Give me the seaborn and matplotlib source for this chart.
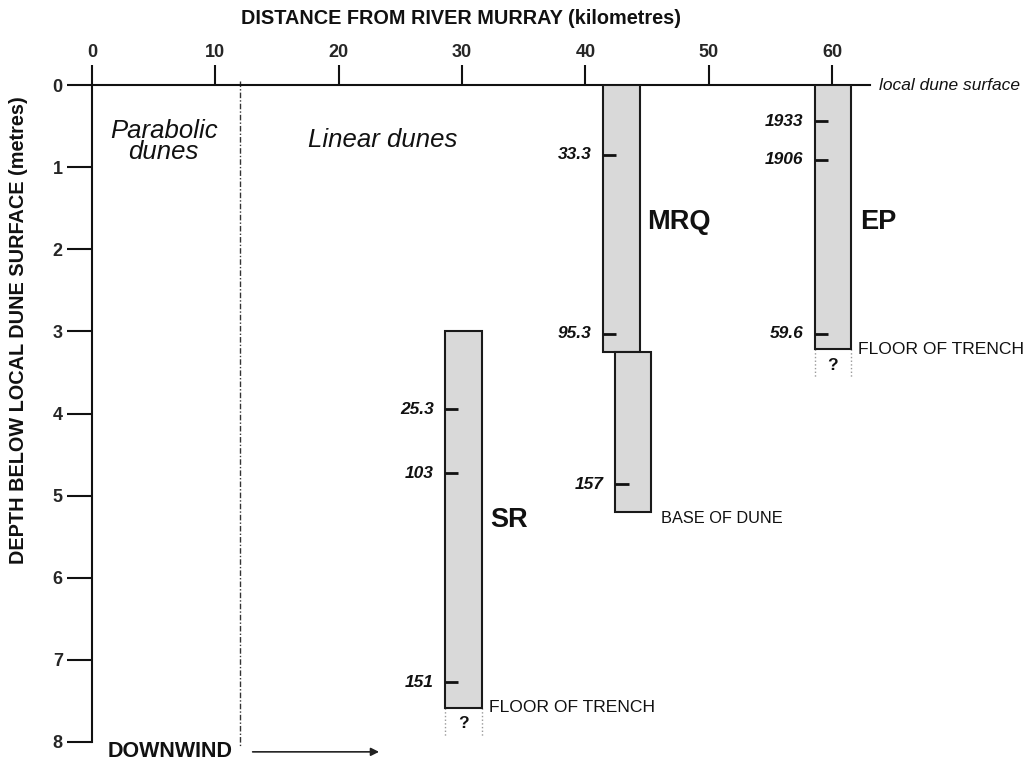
import numpy as np
import matplotlib
matplotlib.use('Agg')
import matplotlib.pyplot as plt
import seaborn as sns

# core segments (km from river, depth in metres)
seg_core = ['MRQ', 'MRQ', 'EP', 'SR']
seg_left = [41.4, 42.4, 58.6, 28.6]
seg_right = [44.4, 45.3, 61.5, 31.6]
seg_top = [0.0, 3.25, 0.0, 3.0]
seg_bottom = [3.25, 5.2, 3.22, 7.58]

# samples: segment index, depth, age label
sample_seg = [0, 0, 1, 2, 2, 2, 3, 3, 3]
sample_depth = [0.85, 3.03, 4.86, 0.44, 0.91, 3.03, 3.95, 4.73, 7.27]
sample_label = ['33.3', '95.3', '157', '1933', '1906', '59.6', '25.3', '103', '151']

# core name labels
core_names = ['MRQ', 'EP', 'SR']
core_name_x = [45.0, 62.3, 32.3]
core_name_y = [1.67, 1.67, 5.3]

# segments whose bottom is the trench floor (unknown below)
trench_segs = [2, 3]

x_ticks = [0, 10, 20, 30, 40, 50, 60]
y_ticks = [0, 1, 2, 3, 4, 5, 6, 7, 8]
boundary_km = 12.0

sns.set_theme(style='white')
plt.rcParams['font.family'] = ['Liberation Sans', 'DejaVu Sans']

fig = plt.figure(figsize=(10.28, 7.66), dpi=100)
ax = fig.add_axes([92/1028, 24/766, 814/1028, 657/766])
ax.set_xlim(0, 66)
ax.set_ylim(8, 0)

# axes styling
for s in ['bottom', 'right']:
    ax.spines[s].set_visible(False)
ax.spines['top'].set_bounds(0, 63.1)
ax.spines['left'].set_bounds(0, 8)
for s in ['top', 'left']:
    ax.spines[s].set_color('#111')
    ax.spines[s].set_linewidth(1.5)
ax.xaxis.tick_top()
ax.set_xticks(x_ticks)
ax.set_yticks(y_ticks)
ax.tick_params(axis='x', top=True, bottom=False, direction='out', length=14.4, width=1.5,
               color='#111', pad=3, labelsize=13)
ax.tick_params(axis='y', left=True, right=False, direction='out', length=18, width=1.5,
               color='#111', pad=3, labelsize=13)
for lab in ax.get_xticklabels() + ax.get_yticklabels():
    lab.set_fontweight('bold')
ax.grid(False)

# cores
left = np.array(seg_left)
right = np.array(seg_right)
top = np.array(seg_top)
bottom = np.array(seg_bottom)
ax.bar(left, bottom - top, bottom=top, width=right - left, align='edge',
       color='#d9d9d9', edgecolor='#1a1a1a', linewidth=1.5, zorder=3)

# sample positions
for i, d, lab in zip(sample_seg, sample_depth, sample_label):
    ax.hlines(d, left[i], left[i] + 1.1, colors='#111', lw=2, zorder=4)
    ax.text(left[i] - 0.9, d, lab, ha='right', va='center', fontsize=12.5,
            style='italic', fontweight='bold', color='#111')

for name, x, y in zip(core_names, core_name_x, core_name_y):
    ax.text(x, y, name, ha='left', va='center', fontsize=19.5, fontweight='bold', color='#111')

# unknown below trench floor
for i in trench_segs:
    ax.vlines([left[i], right[i]], bottom[i], bottom[i] + 0.35, colors='#999',
              linestyles=':', lw=1, clip_on=False)
    ax.text((left[i] + right[i]) / 2, bottom[i] + 0.19, '?', ha='center', va='center',
            fontsize=12.5, fontweight='bold', color='#111')
    ax.text(right[i] + 0.6, bottom[i], 'FLOOR OF TRENCH', ha='left', va='center',
            fontsize=12.6, color='#111')

ax.text(right[1] + 0.8, bottom[1] + 0.08, 'BASE OF DUNE', ha='left', va='center',
        fontsize=11.8, color='#111')

# dune type boundary
ax.vlines(boundary_km, -0.05, 8.05, colors='#333', linestyles=(0, (4, 1.5, 1, 1.5)),
          lw=1, clip_on=False)
ax.text(5.8, 0.69, 'Parabolic\ndunes', ha='center', va='center', fontsize=18.5,
        style='italic', linespacing=0.85, color='#111')
ax.text(23.6, 0.67, 'Linear dunes', ha='center', va='center', fontsize=18.5,
        style='italic', color='#111')

ax.text(63.8, 0, 'local dune surface', ha='left', va='center', fontsize=12.5,
        style='italic', color='#111')

ax.text(1.3, 8.12, 'DOWNWIND', ha='left', va='center', fontsize=15.5,
        fontweight='bold', color='#111')
ax.annotate('', xy=(23.5, 8.12), xytext=(12.8, 8.12), annotation_clip=False,
            arrowprops=dict(arrowstyle='-|>', color='#222', lw=1.2, mutation_scale=12))

fig.text(461/1028, 1 - 18/766, 'DISTANCE FROM RIVER MURRAY (kilometres)', ha='center',
         va='center', fontsize=14.3, fontweight='bold', color='#111')
fig.text(19/1028, 1 - 330/766, 'DEPTH BELOW LOCAL DUNE SURFACE (metres)', ha='center',
         va='center', rotation=90, fontsize=14.3, fontweight='bold', color='#111')

fig.savefig('out.png', dpi=100)
